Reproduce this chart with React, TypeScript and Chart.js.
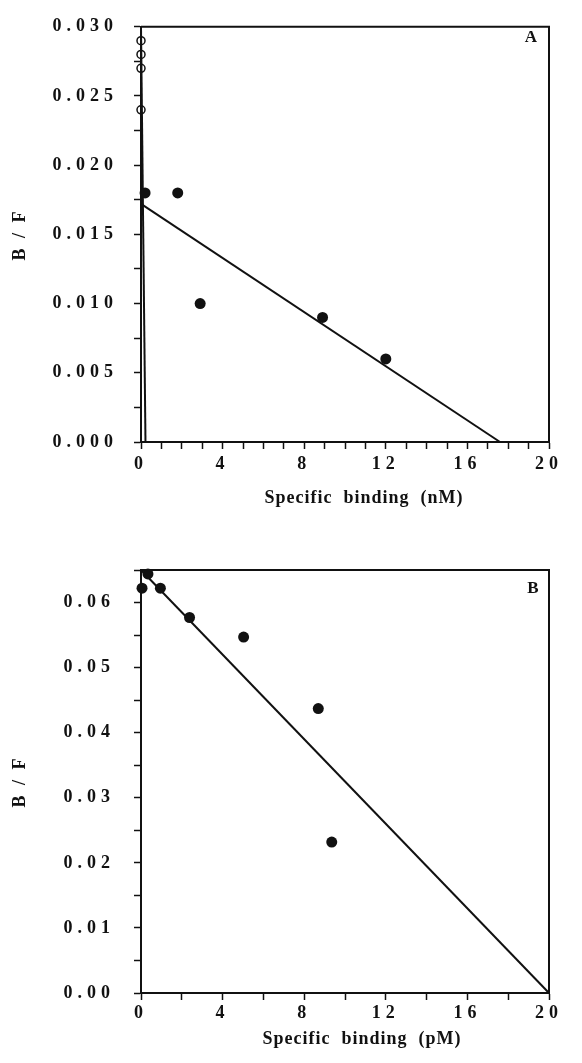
import React, { useEffect, useRef } from 'react';
import { Chart, registerables } from 'chart.js';

Chart.register(...registerables);

const FONT = 'Liberation Serif';
const INK = '#111111';

// ---------- Panel A (nM) ----------
const aOpenX = [0, 0, 0, 0];
const aOpenY = [0.029, 0.028, 0.027, 0.024];
const aFilledX = [0.2, 1.8, 2.9, 8.9, 12.0];
const aFilledY = [0.018, 0.018, 0.010, 0.009, 0.006];
const aHighFitX = [0, 0.22];
const aHighFitY = [0.030, 0];
const aLowFitX = [0, 17.6];
const aLowFitY = [0.0172, 0];
const aXLabels = [0, 4, 8, 12, 16, 20];
const aYLabels = [0, 0.005, 0.01, 0.015, 0.02, 0.025, 0.03];

// ---------- Panel B (pM) ----------
const bFilledX = [0.05, 0.34, 0.95, 2.38, 5.03, 8.69, 9.35];
const bFilledY = [0.0622, 0.0644, 0.0622, 0.0577, 0.0547, 0.0437, 0.0232];
const bFitX = [0, 20];
const bFitY = [0.065, 0];
const bXLabels = [0, 4, 8, 12, 16, 20];
const bYLabels = [0, 0.01, 0.02, 0.03, 0.04, 0.05, 0.06];

const zip = (xs: number[], ys: number[]) => xs.map((x, i) => ({ x, y: ys[i] }));
const has = (list: number[], v: number) => list.some((l) => Math.abs(l - v) < 1e-9);

const paperText = {
  id: 'paperText',
  beforeUpdate(chart: any) {
    chart.ctx.letterSpacing = '5px';
  },
  beforeDraw(chart: any) {
    chart.ctx.letterSpacing = '5px';
  },
  afterDraw(chart: any, _args: any, opts: any) {
    const { ctx, chartArea: ca } = chart;
    ctx.save();
    // top and right frame lines
    ctx.strokeStyle = INK;
    ctx.lineWidth = 2;
    ctx.beginPath();
    ctx.moveTo(ca.left, ca.top);
    ctx.lineTo(ca.right, ca.top);
    ctx.lineTo(ca.right, ca.bottom);
    ctx.stroke();

    ctx.fillStyle = INK;
    ctx.letterSpacing = '1px';
    ctx.font = `bold 18px "${FONT}"`;
    ctx.textAlign = 'center';
    ctx.textBaseline = 'middle';
    ctx.fillText(opts.xTitle, opts.xTitleX, opts.xTitleY);

    ctx.save();
    ctx.translate(opts.yTitleX, (ca.top + ca.bottom) / 2);
    ctx.rotate(-Math.PI / 2);
    ctx.letterSpacing = '3px';
    ctx.fillText(opts.yTitle, 0, 0);
    ctx.restore();

    ctx.letterSpacing = '0px';
    ctx.font = `bold 17px "${FONT}"`;
    ctx.fillText(opts.panel, opts.panelX, opts.panelY);
    ctx.restore();
    ctx.letterSpacing = '5px';
  },
};

function makeConfig(p: any) {
  const tickFont = { family: FONT, weight: 'bold' as const, size: 18 };
  return {
    type: 'scatter' as const,
    data: { datasets: p.datasets },
    plugins: [paperText],
    options: {
      animation: false,
      responsive: false,
      maintainAspectRatio: false,
      events: [],
      layout: { padding: { left: 9, right: 33, top: p.padTop, bottom: 0 } },
      plugins: {
        legend: { display: false },
        tooltip: { enabled: false },
        paperText: p.text,
      },
      scales: {
        x: {
          type: 'linear',
          min: 0,
          max: 20,
          afterFit: (s: any) => {
            s.height = p.xHeight;
          },
          grid: {
            drawOnChartArea: false,
            drawTicks: true,
            tickLength: 7,
            tickWidth: 1.5,
            tickColor: INK,
          },
          border: { display: true, color: INK, width: 2 },
          ticks: {
            stepSize: p.xStep,
            autoSkip: false,
            maxRotation: 0,
            padding: p.xPad,
            color: INK,
            font: tickFont,
            callback: (v: number) => (has(p.xLabels, v) ? String(v) : ''),
          },
        },
        y: {
          type: 'linear',
          min: 0,
          max: p.yMax,
          afterFit: (s: any) => {
            s.width = 132;
          },
          grid: {
            drawOnChartArea: false,
            drawTicks: true,
            tickLength: 7,
            tickWidth: 1.5,
            tickColor: INK,
          },
          border: { display: true, color: INK, width: 2 },
          ticks: {
            stepSize: p.yStep,
            autoSkip: false,
            padding: p.yPad,
            color: INK,
            font: tickFont,
            callback: (v: number) => (has(p.yLabels, v) ? v.toFixed(p.yDigits) : ''),
          },
        },
      },
    },
  };
}

const filled = (data: any[]) => ({
  data,
  showLine: false,
  pointStyle: 'circle',
  pointRadius: 5.5,
  pointBackgroundColor: INK,
  pointBorderColor: INK,
  pointBorderWidth: 0,
  clip: false,
});
const open = (data: any[]) => ({
  data,
  showLine: false,
  pointStyle: 'circle',
  pointRadius: 4,
  pointBackgroundColor: 'rgba(0,0,0,0)',
  pointBorderColor: INK,
  pointBorderWidth: 1.5,
  clip: false,
});
const fit = (data: any[]) => ({
  data,
  showLine: true,
  pointRadius: 0,
  borderColor: INK,
  borderWidth: 2,
  tension: 0,
  fill: false,
  clip: false,
});

const panelA = {
  datasets: [
    open(zip(aOpenX, aOpenY)),
    filled(zip(aFilledX, aFilledY)),
    fit(zip(aHighFitX, aHighFitY)),
    fit(zip(aLowFitX, aLowFitY)),
  ],
  padTop: 18,
  xHeight: 88,
  xStep: 1,
  xPad: 5,
  xLabels: aXLabels,
  yMax: 0.03,
  yStep: 0.0025,
  yPad: 16,
  yLabels: aYLabels,
  yDigits: 3,
  text: {
    xTitle: 'Specific  binding  (nM)',
    xTitleX: 364,
    xTitleY: 498,
    yTitle: 'B / F',
    yTitleX: 20,
    panel: 'A',
    panelX: 531,
    panelY: 38,
  },
};

const panelB = {
  datasets: [filled(zip(bFilledX, bFilledY)), fit(zip(bFitX, bFitY))],
  padTop: 40,
  xHeight: 70,
  xStep: 2,
  xPad: 3,
  xLabels: bXLabels,
  yMax: 0.065,
  yStep: 0.005,
  yPad: 19,
  yLabels: bYLabels,
  yDigits: 2,
  text: {
    xTitle: 'Specific  binding  (pM)',
    xTitleX: 362,
    xTitleY: 509,
    yTitle: 'B / F',
    yTitleX: 20,
    panel: 'B',
    panelX: 533,
    panelY: 59,
  },
};

function Panel({ spec, top, height }: { spec: any; top: number; height: number }) {
  const ref = useRef<HTMLCanvasElement>(null);
  useEffect(() => {
    const chart = new Chart(ref.current as HTMLCanvasElement, makeConfig(spec) as any);
    return () => chart.destroy();
  }, [spec]);
  return (
    <canvas
      ref={ref}
      width={582}
      height={height}
      style={{ position: 'absolute', left: 0, top, width: 582, height, display: 'block' }}
    />
  );
}

export default function App() {
  return (
    <div style={{ position: 'absolute', left: 0, top: 0, width: 582, height: 1063, background: '#fff' }}>
      <Panel spec={panelA} top={0} height={530} />
      <Panel spec={panelB} top={530} height={533} />
    </div>
  );
}
